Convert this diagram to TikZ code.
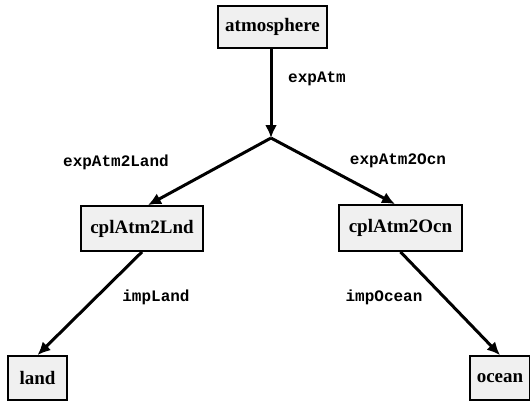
\documentclass[tikz,border=0pt]{standalone}
\usepackage{fontspec}
\setmainfont{Liberation Serif}
\newfontfamily\monofont{Liberation Mono}
\usetikzlibrary{arrows.meta}
\tikzset{
  box/.style={draw=black, line width=1.8bp, fill=gray!12, inner sep=0pt,
              font=\fontsize{19bp}{22bp}\selectfont\bfseries},
  lbl/.style={inner sep=0pt, font=\fontsize{16bp}{18bp}\selectfont\monofont\bfseries},
  arr/.style={line width=3bp, -{Latex[length=13bp,width=12bp]}},
  ln/.style={line width=3bp}
}
\begin{document}
\begin{tikzpicture}[x=1bp,y=-1bp]
\useasboundingbox (0,0) rectangle (530,401);
\node[box, minimum width=109bp, minimum height=42bp] (atm) at (272.5,27) {atmosphere};
\node[box, minimum width=122bp, minimum height=45bp] (cpl1) at (142,228.5) {cplAtm2Lnd};
\node[box, minimum width=123bp, minimum height=46bp] (cpl2) at (400.5,228) {cplAtm2Ocn};
\node[box, minimum width=59bp, minimum height=44bp] (land) at (37.5,378) {land};
\node[box, minimum width=60bp, minimum height=44bp] (ocean) at (500,378) {ocean};
\coordinate (j) at (271,138);
\draw[arr] (atm.south -| j) -- (j);
\draw[arr] (j) -- ([xshift=6bp]cpl1.north);
\draw[arr] (j) -- ([xshift=-5.5bp]cpl2.north);
\draw[arr] (cpl1.south) -- (land.north);
\draw[arr] (cpl2.south) -- (ocean.north);
\node[lbl] (l1) at (317,79) {expAtm};
\node[lbl] (l2) at (116,162) {expAtm2Land};
\node[lbl] (l3) at (398,161) {expAtm2Ocn};
\node[lbl] (l4) at (156,297) {impLand};
\node[lbl] (l5) at (384,297) {impOcean};
\end{tikzpicture}
\end{document}
